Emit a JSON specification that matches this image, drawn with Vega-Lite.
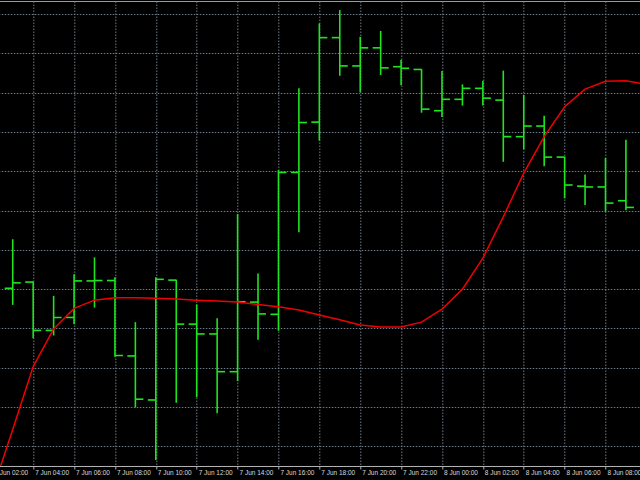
{
  "$schema": "https://vega.github.io/schema/vega-lite/v6.json",
  "width": 660,
  "height": 465,
  "padding": {"left": -7.7, "top": 1, "right": 0, "bottom": 14},
  "autosize": {"type": "none"},
  "background": "#000000",
  "config": {
    "view": {"stroke": "#9a9a9a", "strokeWidth": 1}
  },
  "datasets": {
    "bars": [
      {"t": "2023-06-07T03:00:00Z", "open": 1.08452, "high": 1.08577, "low": 1.08410, "close": 1.08466},
      {"t": "2023-06-07T04:00:00Z", "open": 1.08468, "high": 1.08469, "low": 1.08325, "close": 1.08345},
      {"t": "2023-06-07T05:00:00Z", "open": 1.08345, "high": 1.08433, "low": 1.08332, "close": 1.08378},
      {"t": "2023-06-07T06:00:00Z", "open": 1.08378, "high": 1.08488, "low": 1.08361, "close": 1.08471},
      {"t": "2023-06-07T07:00:00Z", "open": 1.08471, "high": 1.08531, "low": 1.08403, "close": 1.08472},
      {"t": "2023-06-07T08:00:00Z", "open": 1.08472, "high": 1.08480, "low": 1.08278, "close": 1.08281},
      {"t": "2023-06-07T09:00:00Z", "open": 1.08280, "high": 1.08366, "low": 1.08149, "close": 1.08170},
      {"t": "2023-06-07T10:00:00Z", "open": 1.08168, "high": 1.08480, "low": 1.08015, "close": 1.08475},
      {"t": "2023-06-07T11:00:00Z", "open": 1.08473, "high": 1.08474, "low": 1.08161, "close": 1.08361},
      {"t": "2023-06-07T12:00:00Z", "open": 1.08361, "high": 1.08411, "low": 1.08175, "close": 1.08336},
      {"t": "2023-06-07T13:00:00Z", "open": 1.08336, "high": 1.08376, "low": 1.08134, "close": 1.08240},
      {"t": "2023-06-07T14:00:00Z", "open": 1.08240, "high": 1.08641, "low": 1.08216, "close": 1.08418},
      {"t": "2023-06-07T15:00:00Z", "open": 1.08417, "high": 1.08490, "low": 1.08321, "close": 1.08387},
      {"t": "2023-06-07T16:00:00Z", "open": 1.08386, "high": 1.08753, "low": 1.08344, "close": 1.08747},
      {"t": "2023-06-07T17:00:00Z", "open": 1.08747, "high": 1.08961, "low": 1.08595, "close": 1.08874},
      {"t": "2023-06-07T18:00:00Z", "open": 1.08875, "high": 1.09126, "low": 1.08828, "close": 1.09090},
      {"t": "2023-06-07T19:00:00Z", "open": 1.09090, "high": 1.09160, "low": 1.08993, "close": 1.09018},
      {"t": "2023-06-07T20:00:00Z", "open": 1.09018, "high": 1.09092, "low": 1.08951, "close": 1.09064},
      {"t": "2023-06-07T21:00:00Z", "open": 1.09064, "high": 1.09107, "low": 1.08995, "close": 1.09013},
      {"t": "2023-06-07T22:00:00Z", "open": 1.09016, "high": 1.09033, "low": 1.08969, "close": 1.09012},
      {"t": "2023-06-07T23:00:00Z", "open": 1.09009, "high": 1.09010, "low": 1.08899, "close": 1.08908},
      {"t": "2023-06-08T00:00:00Z", "open": 1.08904, "high": 1.09005, "low": 1.08888, "close": 1.08933},
      {"t": "2023-06-08T01:00:00Z", "open": 1.08933, "high": 1.08971, "low": 1.08917, "close": 1.08961},
      {"t": "2023-06-08T02:00:00Z", "open": 1.08961, "high": 1.08980, "low": 1.08917, "close": 1.08936},
      {"t": "2023-06-08T03:00:00Z", "open": 1.08931, "high": 1.09006, "low": 1.08774, "close": 1.08838},
      {"t": "2023-06-08T04:00:00Z", "open": 1.08838, "high": 1.08944, "low": 1.08806, "close": 1.08865},
      {"t": "2023-06-08T05:00:00Z", "open": 1.08865, "high": 1.08891, "low": 1.08763, "close": 1.08786},
      {"t": "2023-06-08T06:00:00Z", "open": 1.08786, "high": 1.08787, "low": 1.08681, "close": 1.08715},
      {"t": "2023-06-08T07:00:00Z", "open": 1.08712, "high": 1.08742, "low": 1.08664, "close": 1.08710},
      {"t": "2023-06-08T08:00:00Z", "open": 1.08710, "high": 1.08784, "low": 1.08647, "close": 1.08669},
      {"t": "2023-06-08T09:00:00Z", "open": 1.08675, "high": 1.08830, "low": 1.08651, "close": 1.08658}
    ],
    "ma": [
      {"t": "2023-06-07T02:00:00Z", "ma": 1.07936},
      {"t": "2023-06-07T03:00:00Z", "ma": 1.08093},
      {"t": "2023-06-07T04:00:00Z", "ma": 1.08253},
      {"t": "2023-06-07T05:00:00Z", "ma": 1.08349},
      {"t": "2023-06-07T06:00:00Z", "ma": 1.08401},
      {"t": "2023-06-07T07:00:00Z", "ma": 1.08422},
      {"t": "2023-06-07T08:00:00Z", "ma": 1.08428},
      {"t": "2023-06-07T09:00:00Z", "ma": 1.08428},
      {"t": "2023-06-07T10:00:00Z", "ma": 1.08427},
      {"t": "2023-06-07T11:00:00Z", "ma": 1.08425},
      {"t": "2023-06-07T12:00:00Z", "ma": 1.08422},
      {"t": "2023-06-07T13:00:00Z", "ma": 1.08420},
      {"t": "2023-06-07T14:00:00Z", "ma": 1.08417},
      {"t": "2023-06-07T15:00:00Z", "ma": 1.08411},
      {"t": "2023-06-07T16:00:00Z", "ma": 1.08405},
      {"t": "2023-06-07T17:00:00Z", "ma": 1.08397},
      {"t": "2023-06-07T18:00:00Z", "ma": 1.08384},
      {"t": "2023-06-07T19:00:00Z", "ma": 1.08372},
      {"t": "2023-06-07T20:00:00Z", "ma": 1.08359},
      {"t": "2023-06-07T21:00:00Z", "ma": 1.08354},
      {"t": "2023-06-07T22:00:00Z", "ma": 1.08354},
      {"t": "2023-06-07T23:00:00Z", "ma": 1.08366},
      {"t": "2023-06-08T00:00:00Z", "ma": 1.08399},
      {"t": "2023-06-08T01:00:00Z", "ma": 1.08450},
      {"t": "2023-06-08T02:00:00Z", "ma": 1.08529},
      {"t": "2023-06-08T03:00:00Z", "ma": 1.08634},
      {"t": "2023-06-08T04:00:00Z", "ma": 1.08745},
      {"t": "2023-06-08T05:00:00Z", "ma": 1.08838},
      {"t": "2023-06-08T06:00:00Z", "ma": 1.08914},
      {"t": "2023-06-08T07:00:00Z", "ma": 1.08959},
      {"t": "2023-06-08T08:00:00Z", "ma": 1.08979},
      {"t": "2023-06-08T09:00:00Z", "ma": 1.08980},
      {"t": "2023-06-08T10:00:00Z", "ma": 1.08971}
    ]
  },
  "layer": [
    {
      "data": {"name": "bars"},
      "mark": {"type": "rule", "color": "#1ee61e", "strokeWidth": 1.6},
      "encoding": {
        "x": {
          "field": "t", "type": "temporal",
          "scale": {"type": "utc", "domain": [1686103200000, 1686219443000], "nice": false},
          "axis": {
            "title": null,
            "values": [1686103200000, 1686106800000, 1686110400000, 1686114000000, 1686117600000, 1686121200000, 1686124800000, 1686128400000, 1686132000000, 1686135600000, 1686139200000, 1686142800000, 1686146400000, 1686150000000, 1686153600000, 1686157200000, 1686160800000, 1686164400000, 1686168000000, 1686171600000, 1686175200000, 1686178800000, 1686182400000, 1686186000000, 1686189600000, 1686193200000, 1686196800000, 1686200400000, 1686204000000, 1686207600000, 1686211200000, 1686214800000, 1686218400000],
            "grid": true,
            "gridColor": "#6e7c8c",
            "gridDash": [1.5, 1.5],
            "gridWidth": 1,
            "domainColor": "#b4b4b4",
            "domainWidth": 1,
            "tickColor": "#b4b4b4",
            "tickSize": 3,
            "tickOpacity": {"condition": {"test": "utchours(datum.value) % 2 == 0", "value": 1}, "value": 0},
            "labelExpr": "utchours(datum.value) % 2 == 0 ? utcFormat(datum.value, '%-d %b %H:%M') : ''",
            "labelAlign": "left",
            "labelBaseline": "top",
            "labelPadding": 1,
            "labelOffset": 1.5,
            "labelColor": "#d8d8d8",
            "labelFont": "Liberation Sans",
            "labelFontSize": 6.5,
            "labelOverlap": false,
            "labelFlush": false,
            "labelBound": false
          }
        },
        "y": {
          "field": "high", "type": "quantitative",
          "scale": {"domain": [1.08, 1.0918321], "nice": false, "zero": false},
          "axis": {
            "title": null,
            "values": [1.0805, 1.081, 1.0815, 1.082, 1.0825, 1.083, 1.0835, 1.084, 1.0845, 1.085, 1.0855, 1.086, 1.0865, 1.087, 1.0875, 1.088, 1.0885, 1.089, 1.0895, 1.09, 1.0905, 1.091, 1.0915],
            "grid": true,
            "gridColor": "#6e7c8c",
            "gridDash": [1.5, 1.5],
            "gridWidth": 1,
            "labels": false,
            "ticks": false,
            "domain": false
          }
        },
        "y2": {"field": "low"}
      }
    },
    {
      "data": {"name": "bars"},
      "mark": {"type": "tick", "orient": "horizontal", "color": "#1ee61e", "opacity": 1, "size": 8, "thickness": 1.6, "xOffset": -4},
      "encoding": {
        "x": {"field": "t", "type": "temporal"},
        "y": {"field": "open", "type": "quantitative"}
      }
    },
    {
      "data": {"name": "bars"},
      "mark": {"type": "tick", "orient": "horizontal", "color": "#1ee61e", "opacity": 1, "size": 8, "thickness": 1.6, "xOffset": 4},
      "encoding": {
        "x": {"field": "t", "type": "temporal"},
        "y": {"field": "close", "type": "quantitative"}
      }
    },
    {
      "data": {"name": "ma"},
      "mark": {"type": "line", "color": "#f00000", "strokeWidth": 1.5, "clip": true},
      "encoding": {
        "x": {"field": "t", "type": "temporal"},
        "y": {"field": "ma", "type": "quantitative"}
      }
    }
  ]
}
